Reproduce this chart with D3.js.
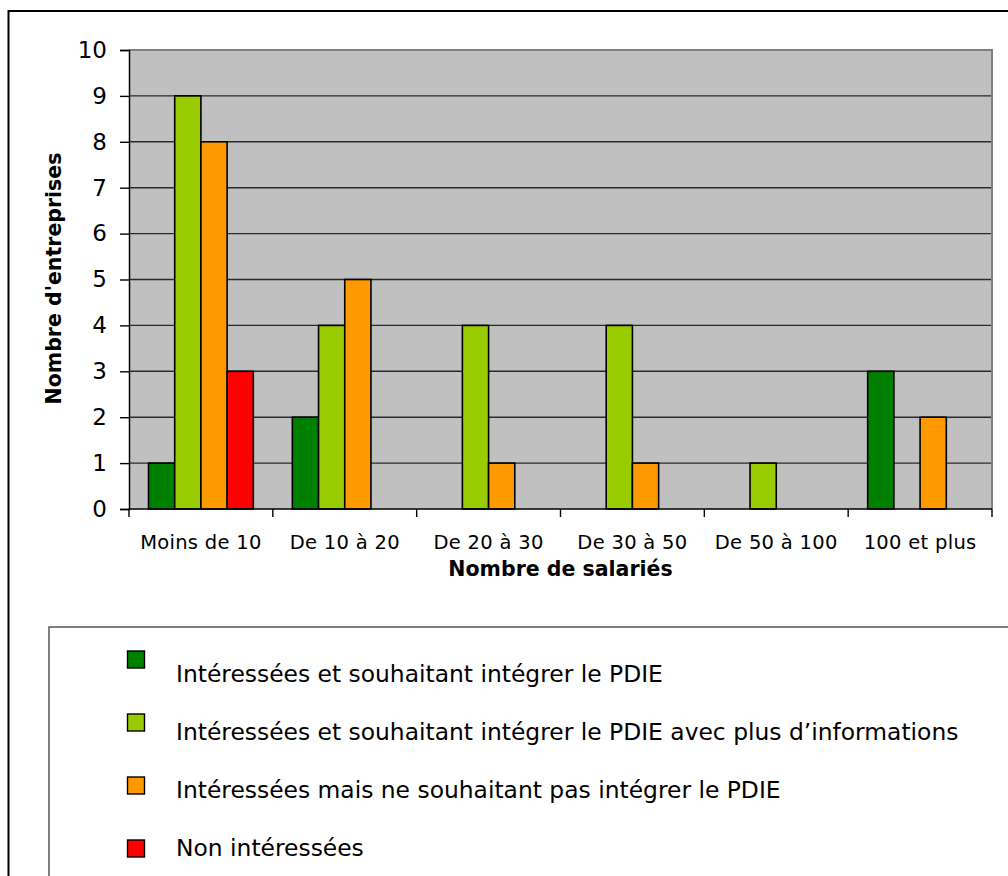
<!DOCTYPE html>
<html>
<head>
<meta charset="utf-8">
<script src="https://cdn.jsdelivr.net/npm/d3@7/dist/d3.min.js"></script>
<style>
  html, body { margin: 0; padding: 0; background: #fff; }
  svg { display: block; }
  text { font-family: "DejaVu Sans", Verdana, sans-serif; fill: #000; }
</style>
</head>
<body>
<svg id="chart" width="1008" height="876"></svg>
<script>
// Company size classes (x axis)
const categories = ["Moins de 10", "De 10 à 20", "De 20 à 30", "De 30 à 50", "De 50 à 100", "100 et plus"];

// Series names, in legend order
const seriesNames = [
  "Intéressées et souhaitant intégrer le PDIE",
  "Intéressées et souhaitant intégrer le PDIE avec plus d’informations",
  "Intéressées mais ne souhaitant pas intégrer le PDIE",
  "Non intéressées"
];

// Number of companies per size class, one array per series
const interessees      = [1, 2, 0, 0, 0, 3];
const interesseesInfos = [9, 4, 4, 4, 1, 0];
const pasIntegrer      = [8, 5, 1, 1, 0, 2];
const nonInteressees   = [3, 0, 0, 0, 0, 0];

const seriesValues = [interessees, interesseesInfos, pasIntegrer, nonInteressees];
const seriesColors = ["#008000", "#99CC00", "#FF9900", "#FF0000"];

const yTicks = [0, 1, 2, 3, 4, 5, 6, 7, 8, 9, 10];
const yTitle = "Nombre d'entreprises";
const xTitle = "Nombre de salariés";

const svg = d3.select("#chart");

// Outer chart frame
svg.append("rect")
  .attr("x", 8.5).attr("y", 11)
  .attr("width", 1020).attr("height", 900)
  .attr("fill", "#fff")
  .attr("stroke", "#000").attr("stroke-width", 2);

const plot = { left: 129, right: 992, top: 50, bottom: 509 };

const x0 = d3.scaleBand()
  .domain(categories)
  .range([plot.left, plot.right])
  .padding(0);

const groupGap = 19.5;
const x1 = d3.scaleBand()
  .domain(d3.range(seriesNames.length))
  .range([groupGap, x0.bandwidth() - groupGap])
  .padding(0);

const y = d3.scaleLinear()
  .domain([0, 10])
  .range([plot.bottom, plot.top]);

// Plot area background
svg.append("rect")
  .attr("x", plot.left).attr("y", plot.top)
  .attr("width", plot.right - plot.left)
  .attr("height", plot.bottom - plot.top)
  .attr("fill", "#C0C0C0");

// Horizontal gridlines
svg.append("g")
  .selectAll("line")
  .data(yTicks.filter(d => d > 0 && d < 10))
  .join("line")
  .attr("x1", plot.left).attr("x2", plot.right)
  .attr("y1", d => y(d)).attr("y2", d => y(d))
  .attr("stroke", "#2a2a2a").attr("stroke-width", 1.4);

// Plot frame (top and right edges in grey)
svg.append("path")
  .attr("d", `M${plot.left},${plot.top}H${plot.right}V${plot.bottom}`)
  .attr("fill", "none")
  .attr("stroke", "#808080").attr("stroke-width", 2);

// Bars
const groups = svg.append("g")
  .selectAll("g")
  .data(categories)
  .join("g")
  .attr("transform", d => `translate(${x0(d)},0)`);

groups.selectAll("rect")
  .data((c, ci) => seriesValues.map((vals, si) => ({ si, v: vals[ci] })).filter(d => d.v > 0))
  .join("rect")
  .attr("x", d => x1(d.si))
  .attr("width", x1.bandwidth())
  .attr("y", d => y(d.v))
  .attr("height", d => y(0) - y(d.v))
  .attr("fill", d => seriesColors[d.si])
  .attr("stroke", "#000").attr("stroke-width", 1.6);

// Y axis
const yAxis = d3.axisLeft(y)
  .tickValues(yTicks)
  .tickSize(9)
  .tickPadding(13)
  .tickFormat(d3.format("d"));

const yg = svg.append("g")
  .attr("transform", `translate(${plot.left},0)`)
  .call(yAxis);
yg.select(".domain").attr("stroke", "#000").attr("stroke-width", 1.5);
yg.selectAll(".tick line").attr("stroke", "#000").attr("stroke-width", 1.4);
yg.selectAll(".tick text")
  .style("font-family", "'DejaVu Sans', Verdana, sans-serif")
  .style("font-size", "23px")
  .attr("fill", "#000");

// X axis: ticks at group boundaries, labels centred under groups
const boundaries = categories.map(c => x0(c)).concat([plot.right]);
svg.append("line")
  .attr("x1", plot.left).attr("x2", plot.right)
  .attr("y1", plot.bottom).attr("y2", plot.bottom)
  .attr("stroke", "#000").attr("stroke-width", 1.6);
svg.append("g")
  .selectAll("line")
  .data(boundaries)
  .join("line")
  .attr("x1", d => d).attr("x2", d => d)
  .attr("y1", plot.bottom).attr("y2", plot.bottom + 8)
  .attr("stroke", "#000").attr("stroke-width", 1.4);

svg.append("g")
  .selectAll("text")
  .data(categories)
  .join("text")
  .attr("x", d => x0(d) + x0.bandwidth() / 2)
  .attr("y", 549)
  .attr("text-anchor", "middle")
  .style("font-size", "19.5px")
  .style("letter-spacing", "0.3px")
  .text(d => d);

// Axis titles
svg.append("text")
  .attr("x", (plot.left + plot.right) / 2)
  .attr("y", 576)
  .attr("text-anchor", "middle")
  .style("font-size", "20.5px")
  .style("font-weight", "bold")
  .text(xTitle);

svg.append("text")
  .attr("transform", `translate(61,${(plot.top + plot.bottom) / 2 - 1}) rotate(-90)`)
  .attr("text-anchor", "middle")
  .style("font-size", "20.5px")
  .style("font-weight", "bold")
  .text(yTitle);

// Legend
svg.append("rect")
  .attr("x", 49).attr("y", 627)
  .attr("width", 1000).attr("height", 300)
  .attr("fill", "#fff")
  .attr("stroke", "#555").attr("stroke-width", 1.5);

const keyY = d3.scalePoint().domain(d3.range(seriesNames.length)).range([651, 840]);
const labelY = d3.scalePoint().domain(d3.range(seriesNames.length)).range([682, 856]);

const legend = svg.append("g");
legend.selectAll("rect")
  .data(seriesNames)
  .join("rect")
  .attr("x", 127.5)
  .attr("y", (d, i) => keyY(i))
  .attr("width", 17).attr("height", 17)
  .attr("fill", (d, i) => seriesColors[i])
  .attr("stroke", "#000").attr("stroke-width", 1.4);

legend.selectAll("text")
  .data(seriesNames)
  .join("text")
  .attr("x", 176)
  .attr("y", (d, i) => labelY(i))
  .style("font-size", "23.4px")
  .text(d => d);
</script>
</body>
</html>
